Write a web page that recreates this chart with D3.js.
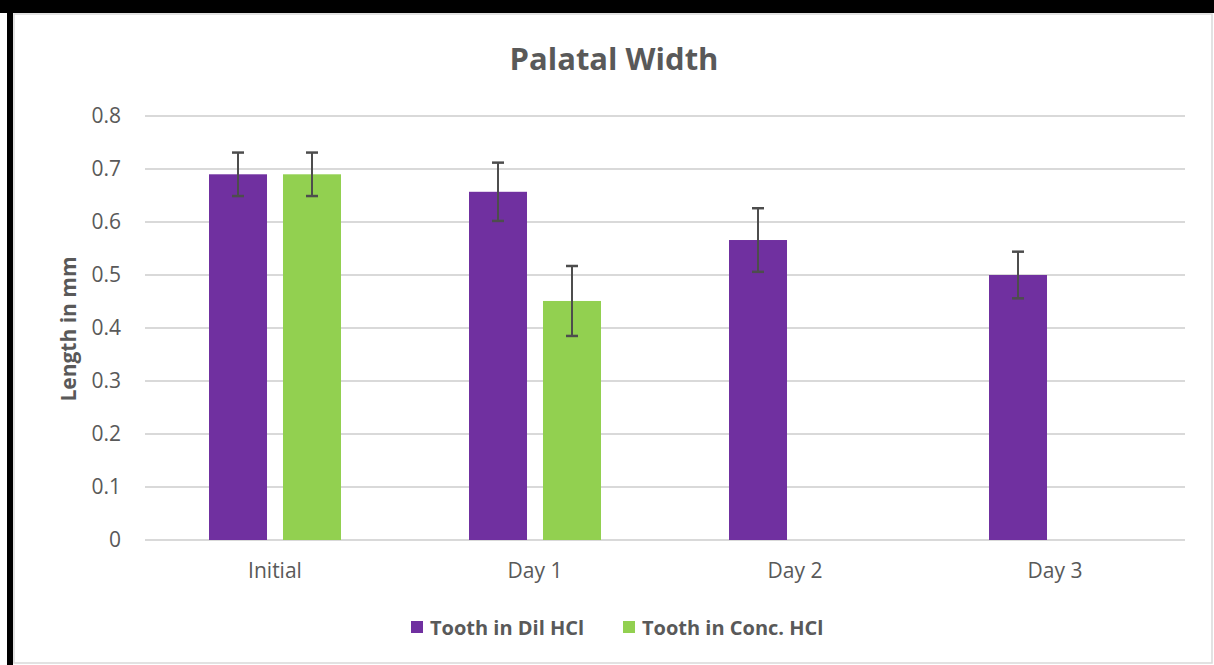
<!DOCTYPE html>
<html lang="en">
<head>
    <meta charset="UTF-8">
    <title>Palatal Width</title>
    <script src="https://d3js.org/d3.v7.min.js"></script>
    <style>
        body {
            margin: 0;
            font-family: "Open Sans", Arial, sans-serif;
            background: #fff;
        }
        .tick text {
            fill: #595959;
            font-family: "Open Sans", Arial, sans-serif;
        }
    </style>
</head>
<body>
    <div id="chart"></div>

    <script>
        // Chart data
        const categories = ["Initial", "Day 1", "Day 2", "Day 3"];
        const seriesNames = ["Tooth in Dil HCl", "Tooth in Conc. HCl"];
        const dilValues = [0.69, 0.657, 0.566, 0.5];
        const dilErrors = [0.041, 0.055, 0.06, 0.044];
        const concValues = [0.69, 0.451, null, null];
        const concErrors = [0.041, 0.066, null, null];
        const yTicks = [0, 0.1, 0.2, 0.3, 0.4, 0.5, 0.6, 0.7, 0.8];
        const colors = ["#7030A0", "#92D050"];

        const W = 1214, H = 665;
        const margin = { top: 116, right: 29, bottom: 125, left: 145 };
        const width = W - margin.left - margin.right,
              height = H - margin.top - margin.bottom;

        const svg = d3.select("#chart").append("svg")
            .attr("width", W)
            .attr("height", H);

        // outer frame (black band top/left, thin grey inner border)
        svg.append("rect").attr("x", 0).attr("y", 0).attr("width", W).attr("height", 13).attr("fill", "#000");
        svg.append("rect").attr("x", 7).attr("y", 0).attr("width", 6).attr("height", H).attr("fill", "#000");
        svg.append("rect")
            .attr("x", 14).attr("y", 14)
            .attr("width", W - 16).attr("height", H - 16)
            .attr("fill", "none")
            .attr("stroke", "#d9d9d9")
            .attr("stroke-width", 1.5);

        const g = svg.append("g")
            .attr("transform", `translate(${margin.left},${margin.top})`);

        const x0 = d3.scaleBand()
            .domain(categories)
            .range([0, width]);

        const x1 = d3.scaleBand()
            .domain(seriesNames)
            .range([64, x0.bandwidth() - 64])
            .paddingInner(0.216);

        const y = d3.scaleLinear()
            .domain([0, 0.8])
            .range([height, 0]);

        // gridlines
        g.selectAll(".grid")
            .data(yTicks)
            .enter().append("line")
            .attr("x1", 0)
            .attr("x2", width)
            .attr("y1", d => y(d))
            .attr("y2", d => y(d))
            .attr("stroke", "#d9d9d9")
            .attr("stroke-width", 2);

        // y axis labels
        const yAxis = g.append("g")
            .call(d3.axisLeft(y).tickValues(yTicks).tickSize(0).tickPadding(24)
                .tickFormat(d => d === 0 ? "0" : d3.format(".1f")(d)));
        yAxis.select(".domain").remove();
        yAxis.selectAll("text").style("font-size", "21px");

        // x axis labels
        const xAxis = g.append("g")
            .attr("transform", `translate(0,${height})`)
            .call(d3.axisBottom(x0).tickSize(0).tickPadding(23));
        xAxis.select(".domain").remove();
        xAxis.selectAll("text").style("font-size", "21px");

        const series = [
            { name: seriesNames[0], values: dilValues, errors: dilErrors, color: colors[0] },
            { name: seriesNames[1], values: concValues, errors: concErrors, color: colors[1] }
        ];

        series.forEach(s => {
            const pts = categories.map((c, i) => ({ cat: c, v: s.values[i], e: s.errors[i] }))
                .filter(d => d.v != null);

            g.selectAll(null)
                .data(pts)
                .enter().append("rect")
                .attr("x", d => x0(d.cat) + x1(s.name))
                .attr("y", d => y(d.v))
                .attr("width", x1.bandwidth())
                .attr("height", d => height - y(d.v))
                .attr("fill", s.color);

            const eb = g.selectAll(null)
                .data(pts)
                .enter().append("g")
                .attr("stroke", "#4d4d4d")
                .attr("stroke-width", 2);
            const cx = d => x0(d.cat) + x1(s.name) + x1.bandwidth() / 2;
            eb.append("line")
                .attr("x1", cx).attr("x2", cx)
                .attr("y1", d => y(d.v + d.e)).attr("y2", d => y(d.v - d.e));
            eb.append("line")
                .attr("x1", d => cx(d) - 6).attr("x2", d => cx(d) + 6)
                .attr("y1", d => y(d.v + d.e)).attr("y2", d => y(d.v + d.e))
                .attr("stroke-width", 2.5);
            eb.append("line")
                .attr("x1", d => cx(d) - 6).attr("x2", d => cx(d) + 6)
                .attr("y1", d => y(d.v - d.e)).attr("y2", d => y(d.v - d.e))
                .attr("stroke-width", 2.5);
        });

        // title
        svg.append("text")
            .attr("x", 614)
            .attr("y", 70)
            .attr("text-anchor", "middle")
            .style("font-size", "31px")
            .style("font-weight", "bold")
            .style("fill", "#595959")
            .text("Palatal Width");

        // y axis title
        svg.append("text")
            .attr("transform", "rotate(-90)")
            .attr("x", -329)
            .attr("y", 76)
            .attr("text-anchor", "middle")
            .style("font-size", "21px")
            .style("font-weight", "bold")
            .style("fill", "#595959")
            .text("Length in mm");

        // legend
        const legendPos = [411, 623];
        series.forEach((s, i) => {
            svg.append("rect")
                .attr("x", legendPos[i])
                .attr("y", 621)
                .attr("width", 12)
                .attr("height", 12)
                .attr("fill", s.color);
            svg.append("text")
                .attr("x", legendPos[i] + 19)
                .attr("y", 635)
                .style("font-size", "20px")
                .style("font-weight", "bold")
                .style("fill", "#595959")
                .text(s.name);
        });
    </script>
</body>
</html>
